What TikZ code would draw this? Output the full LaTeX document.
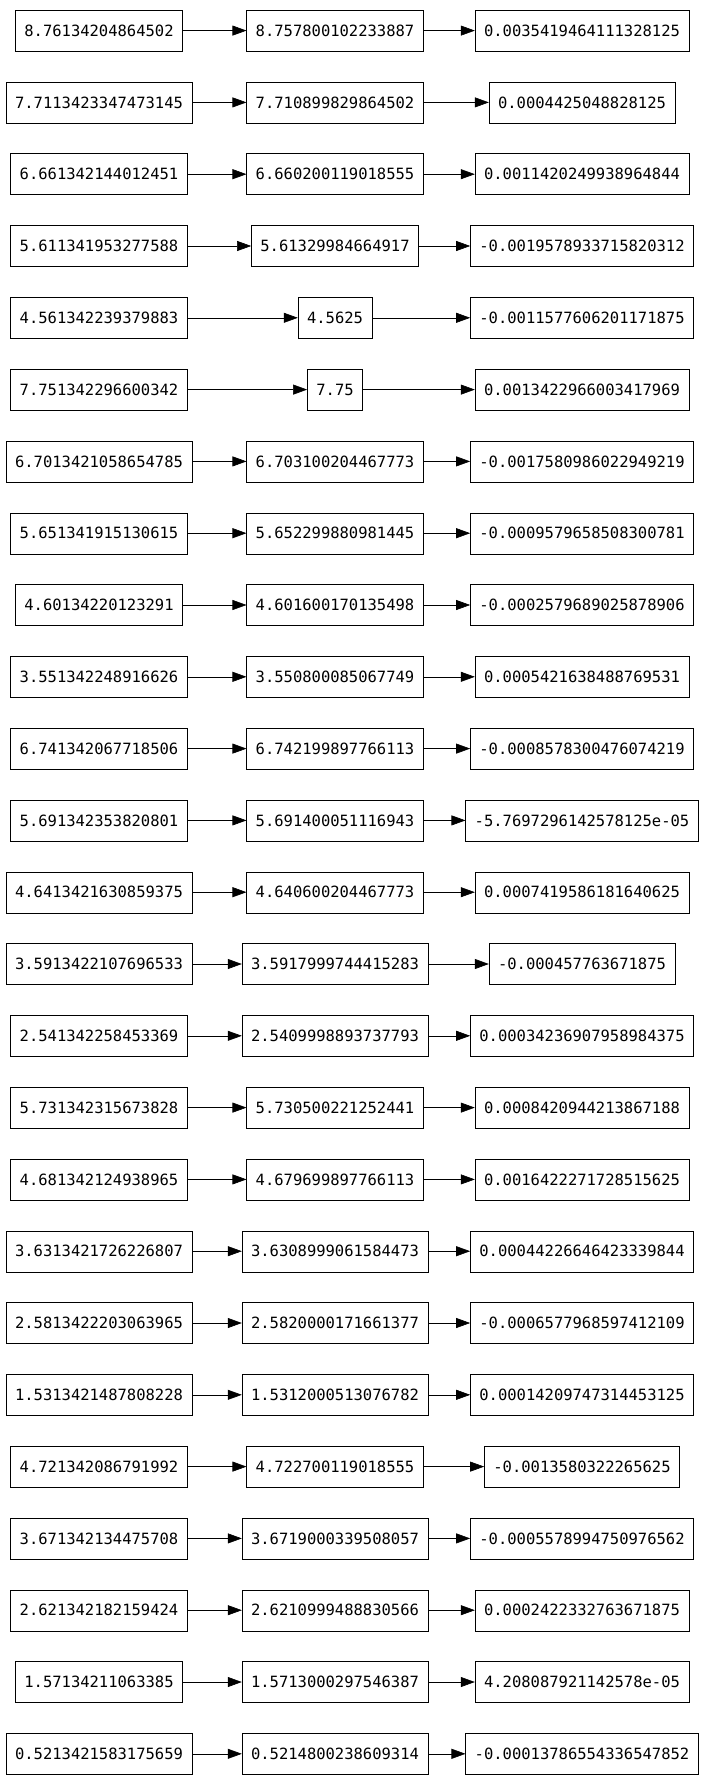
\documentclass[tikz,border=0pt]{standalone}
\usepackage{fontspec}
\setmonofont{DejaVu Sans Mono}
\usetikzlibrary{arrows.meta, positioning}
\tikzset{
  valbox/.style={
      draw=black,
      rectangle,
      minimum height=41pt,
      inner xsep=9pt,
      font=\ttfamily\fontsize{15.5}{18}\selectfont
  },
  arrow/.style={-{Triangle[length=14pt,width=10pt]}, semithick}
}
\begin{document}
\begin{tikzpicture}[x=1pt, y=-1pt]
  \useasboundingbox (0,0) rectangle (704,1787);
  % one row per value triple
  \foreach \a/\b/\c [count=\i from 0] in {
    8.76134204864502/8.757800102233887/0.0035419464111328125,
    7.7113423347473145/7.710899829864502/0.0004425048828125,
    6.661342144012451/6.660200119018555/0.0011420249938964844,
    5.611341953277588/5.61329984664917/-0.0019578933715820312,
    4.561342239379883/4.5625/-0.0011577606201171875,
    7.751342296600342/7.75/0.0013422966003417969,
    6.7013421058654785/6.703100204467773/-0.0017580986022949219,
    5.651341915130615/5.652299880981445/-0.0009579658508300781,
    4.60134220123291/4.601600170135498/-0.0002579689025878906,
    3.551342248916626/3.550800085067749/0.0005421638488769531,
    6.741342067718506/6.742199897766113/-0.0008578300476074219,
    5.691342353820801/5.691400051116943/-5.7697296142578125e-05,
    4.6413421630859375/4.640600204467773/0.0007419586181640625,
    3.5913422107696533/3.5917999744415283/-0.000457763671875,
    2.541342258453369/2.5409998893737793/0.00034236907958984375,
    5.731342315673828/5.730500221252441/0.0008420944213867188,
    4.681342124938965/4.679699897766113/0.0016422271728515625,
    3.6313421726226807/3.6308999061584473/0.00044226646423339844,
    2.5813422203063965/2.5820000171661377/-0.0006577968597412109,
    1.5313421487808228/1.5312000513076782/0.00014209747314453125,
    4.721342086791992/4.722700119018555/-0.0013580322265625,
    3.671342134475708/3.6719000339508057/-0.0005578994750976562,
    2.621342182159424/2.6210999488830566/0.0002422332763671875,
    1.57134211063385/1.5713000297546387/4.208087921142578e-05,
    0.5213421583175659/0.5214800238609314/-0.00013786554336547852}
  {
    \node (in\i)  [valbox] at (99, 30.6+71.8*\i)  {\a};
    \node (mid\i) [valbox] at (335, 30.6+71.8*\i) {\b};
    \node (out\i) [valbox] at (582, 30.6+71.8*\i) {\c};
    \draw[arrow] (in\i) -- (mid\i);
    \draw[arrow] (mid\i) -- (out\i);
  }
\end{tikzpicture}
\end{document}
